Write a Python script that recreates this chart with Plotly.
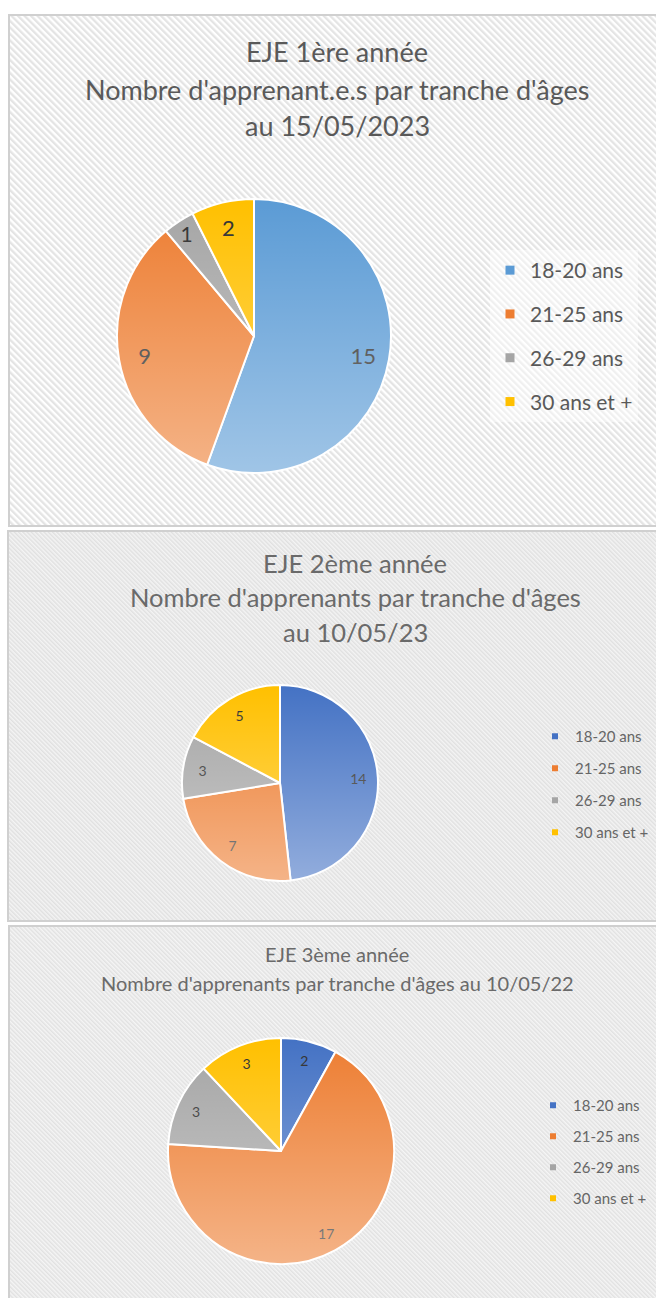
import base64
import plotly.graph_objects as go

# ---------------- data ----------------
categories = ["18-20 ans", "21-25 ans", "26-29 ans", "30 ans et +"]
values_1 = [15, 9, 1, 2]
values_2 = [14, 7, 3, 5]
values_3 = [2, 17, 3, 3]

title_1 = ["EJE 1ère année", "Nombre d'apprenant.e.s par tranche d'âges", "au 15/05/2023"]
title_2 = ["EJE 2ème année", "Nombre d'apprenants par tranche d'âges", "au 10/05/23"]
title_3 = ["EJE 3ème année", "Nombre d'apprenants par tranche d'âges au 10/05/22"]

colors_1 = ["#5b9bd5", "#ed7d31", "#a5a5a5", "#ffc000"]
colors_23 = ["#4472c4", "#ed7d31", "#a5a5a5", "#ffc000"]

W, H = 656, 1298
FONT = "Lato"


def px_x(v):
    return v / W


def px_y(v):
    return 1 - v / H


def svg_uri(svg):
    return "data:image/svg+xml;base64," + base64.b64encode(svg.encode("utf-8")).decode()


def panel_svg(w, h, base, stripe, period, border):
    half = period / 2
    return (
        f'<svg xmlns="http://www.w3.org/2000/svg" width="{w}" height="{h}" viewBox="0 0 {w} {h}" preserveAspectRatio="none">'
        f'<defs><pattern id="p" width="{period}" height="{period}" patternUnits="userSpaceOnUse" patternTransform="rotate(-45)">'
        f'<rect width="{period}" height="{period}" fill="{base}"/><rect width="{half}" height="{period}" fill="{stripe}"/>'
        f'</pattern></defs>'
        f'<rect x="1" y="1" width="{w-2}" height="{h-2}" fill="url(#p)" stroke="{border}" stroke-width="2"/></svg>'
    )


def shade_svg(d, alpha):
    r = d / 2
    return (
        f'<svg xmlns="http://www.w3.org/2000/svg" width="{d}" height="{d}" viewBox="0 0 {d} {d}">'
        f'<defs><linearGradient id="g" x1="0" y1="0" x2="0" y2="1">'
        f'<stop offset="0" stop-color="#ffffff" stop-opacity="0"/>'
        f'<stop offset="1" stop-color="#ffffff" stop-opacity="{alpha}"/></linearGradient></defs>'
        f'<circle cx="{r}" cy="{r}" r="{r}" fill="url(#g)"/></svg>'
    )


fig = go.Figure()
images = []
annotations = []

# panels (left, top, right, bottom) in pixels
panels = [
    (8, 14, 664, 527, "#ffffff", "#e4e4e4", 4.6),
    (7, 530, 664, 922, "#f4f4f4", "#e0e0e0", 3.0),
    (8, 925, 664, 1304, "#f5f5f5", "#e1e1e1", 3.0),
]
for (l, t, r, b, base, stripe, period) in panels:
    images.append(dict(
        source=svg_uri(panel_svg(r - l, b - t, base, stripe, period, "#d0d0d0")),
        xref="paper", yref="paper", x=px_x(l), y=px_y(t),
        sizex=(r - l) / W, sizey=(b - t) / H, xanchor="left", yanchor="top",
        sizing="stretch", layer="below",
    ))

# pies: (values, colors, cx, cy, radius, text size, label ring hole)
pies = [
    (values_1, colors_1, 254, 336, 137, 22, 0.62),
    (values_2, colors_23, 280, 783, 98, 14, 0.60),
    (values_3, colors_23, 281, 1151, 113, 14, 0.66),
]
for vals, cols, cx, cy, rad, ts, hole in pies:
    dom = dict(x=[px_x(cx - rad), px_x(cx + rad)], y=[px_y(cy + rad), px_y(cy - rad)])
    fig.add_trace(go.Pie(
        labels=categories, values=vals, sort=False, direction="clockwise", rotation=0,
        marker=dict(colors=cols, line=dict(color="#ffffff", width=2)),
        textinfo="none", domain=dom,
        showlegend=False, hoverinfo="label+value+percent",
    ))
    # transparent ring carrying the value labels further out (as in Excel)
    fig.add_trace(go.Pie(
        labels=categories, values=vals, sort=False, direction="clockwise", rotation=0,
        hole=hole,
        marker=dict(colors=["rgba(0,0,0,0)"] * len(vals), line=dict(width=0)),
        textinfo="value", textposition="inside", insidetextorientation="horizontal",
        textfont=dict(family=FONT, size=ts, color="#2e2e2e"),
        domain=dom, showlegend=False, hoverinfo="skip",
    ))
    images.append(dict(
        source=svg_uri(shade_svg(2 * rad, 0.42)),
        xref="paper", yref="paper", x=px_x(cx - rad), y=px_y(cy - rad),
        sizex=2 * rad / W, sizey=2 * rad / H, xanchor="left", yanchor="top",
        sizing="stretch", layer="above",
    ))

# legend entries (one group per category, so spacing can be set by tracegroupgap)
legend_cfg = [
    ("legend", colors_1, 9),
    ("legend2", colors_23, 6),
    ("legend3", colors_23, 6),
]
for lg, cols, msize in legend_cfg:
    for cat, col in zip(categories, cols):
        fig.add_trace(go.Scatter(
            x=[None], y=[None], mode="markers", name=cat,
            marker=dict(symbol="square", size=msize, color=col),
            legend=lg, legendgroup=lg + cat, showlegend=True, hoverinfo="skip",
        ))

# titles
title_specs = [
    (title_1, 337, [51, 89, 125], 27, "#595959"),
    (title_2, 355, [563, 597, 632], 25.5, "#6a6a6a"),
    (title_3, 337, [954, 983], 20, "#6a6a6a"),
]
for lines, cx, ys, fs, col in title_specs:
    for line, yy in zip(lines, ys):
        annotations.append(dict(
            text=line, x=px_x(cx), y=px_y(yy), xref="paper", yref="paper",
            xanchor="center", yanchor="middle", showarrow=False,
            font=dict(family=FONT, size=fs, color=col),
        ))

fig.update_layout(
    width=W, height=H, autosize=False,
    margin=dict(l=0, r=0, t=0, b=0),
    paper_bgcolor="#ffffff", plot_bgcolor="rgba(0,0,0,0)",
    xaxis=dict(visible=False), yaxis=dict(visible=False),
    images=images, annotations=annotations,
    legend=dict(x=px_x(490), y=px_y(250), xanchor="left", yanchor="top",
                bgcolor="rgba(255,255,255,0.45)", tracegroupgap=13.5,
                font=dict(family=FONT, size=21, color="#595959"), itemclick=False),
    legend2=dict(x=px_x(535), y=px_y(720), xanchor="left", yanchor="top",
                 bgcolor="rgba(0,0,0,0)", tracegroupgap=9.5,
                 font=dict(family=FONT, size=15, color="#666666"), itemclick=False),
    legend3=dict(x=px_x(533), y=px_y(1089), xanchor="left", yanchor="top",
                 bgcolor="rgba(0,0,0,0)", tracegroupgap=8.5,
                 font=dict(family=FONT, size=15, color="#666666"), itemclick=False),
)

fig.write_html("out.html", post_script="document.body.style.margin='0';",
               config={"displayModeBar": False})
